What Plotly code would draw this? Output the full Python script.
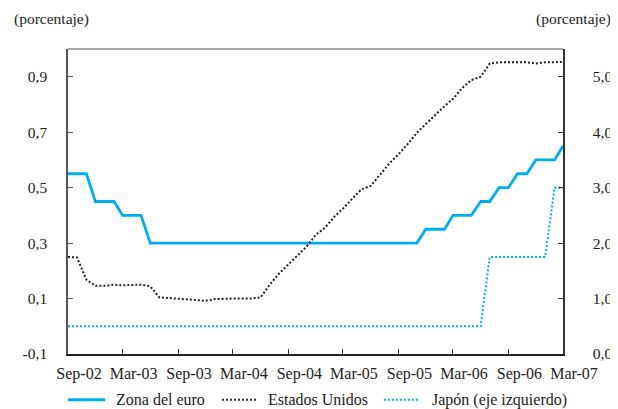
import plotly.graph_objects as go
import pandas as pd

months = pd.date_range("2002-09-01", "2007-03-01", freq="MS")

euro = [3.25, 3.25, 3.25, 2.75, 2.75, 2.75, 2.5, 2.5, 2.5, 2.0,
        2.0, 2.0, 2.0, 2.0, 2.0, 2.0, 2.0, 2.0, 2.0, 2.0,
        2.0, 2.0, 2.0, 2.0, 2.0, 2.0, 2.0, 2.0, 2.0, 2.0,
        2.0, 2.0, 2.0, 2.0, 2.0, 2.0, 2.0, 2.0, 2.0, 2.25,
        2.25, 2.25, 2.5, 2.5, 2.5, 2.75, 2.75, 3.0, 3.0, 3.25,
        3.25, 3.5, 3.5, 3.5, 3.75]

usa = [1.75, 1.74, 1.34, 1.23, 1.23, 1.25, 1.24, 1.25, 1.25, 1.22,
       1.02, 1.01, 1.00, 0.99, 0.98, 0.96, 0.99, 1.00, 1.00, 1.00,
       1.00, 1.02, 1.25, 1.45, 1.62, 1.78, 1.94, 2.15, 2.28, 2.48,
       2.62, 2.80, 2.97, 3.03, 3.22, 3.43, 3.60, 3.78, 3.99, 4.15,
       4.30, 4.47, 4.60, 4.80, 4.94, 5.00, 5.24, 5.26, 5.26, 5.26,
       5.26, 5.24, 5.26, 5.26, 5.27]

japan = [0.0] * 46 + [0.25, 0.25, 0.25, 0.25, 0.25, 0.25, 0.25, 0.5, 0.5]

series_names = ["Zona del euro", "Estados Unidos", "Japón (eje izquierdo)"]

tick_dates = ["2002-09-01", "2003-03-01", "2003-09-01", "2004-03-01", "2004-09-01",
              "2005-03-01", "2005-09-01", "2006-03-01", "2006-09-01", "2007-03-01"]
tick_labels = ["Sep-02", "Mar-03", "Sep-03", "Mar-04", "Sep-04",
               "Mar-05", "Sep-05", "Mar-06", "Sep-06", "Mar-07"]

left_ticks = [-0.1, 0.1, 0.3, 0.5, 0.7, 0.9]
left_labels = ["-0,1", "0,1", "0,3", "0,5", "0,7", "0,9"]
right_ticks = [0.0, 1.0, 2.0, 3.0, 4.0, 5.0]

BLUE = "#00aeef"
DARK = "#222222"
FONT = "Liberation Serif, Times New Roman, DejaVu Serif, serif"
FS = 15.5
FS_X = 16
FS_LEG = 16

styles = [dict(color=BLUE, width=2.8),
          dict(color=DARK, width=2, dash="2px,2px"),
          dict(color=BLUE, width=2, dash="2px,2px")]

fig = go.Figure()
fig.add_trace(go.Scatter(x=months, y=euro, name=series_names[0], mode="lines",
                         line=styles[0], yaxis="y2", showlegend=False))
fig.add_trace(go.Scatter(x=months, y=usa, name=series_names[1], mode="lines",
                         line=styles[1], yaxis="y2", showlegend=False))
fig.add_trace(go.Scatter(x=months, y=japan, name=series_names[2], mode="lines",
                         line=styles[2], yaxis="y", showlegend=False))

# manual legend (paper coordinates)
leg_y = -0.15
leg_x = [(0.0, 0.075, 0.093), (0.311, 0.382, 0.400), (0.638, 0.711, 0.731)]
shapes = [dict(type="line", xref="paper", yref="paper", x0=0, x1=1, y0=1, y1=1,
               line=dict(color="#888888", width=1.5))]
annotations = []
for (x0, x1, xt), name, st in zip(leg_x, series_names, styles):
    shapes.append(dict(type="line", xref="paper", yref="paper", x0=x0, x1=x1,
                       y0=leg_y, y1=leg_y, line=st))
    annotations.append(dict(text=name, xref="paper", yref="paper", x=xt, y=leg_y,
                            xanchor="left", yanchor="middle", showarrow=False,
                            font=dict(family=FONT, size=FS_LEG, color=DARK)))

annotations += [
    dict(text="(porcentaje)", xref="paper", yref="paper", x=-0.113, y=1.098,
         xanchor="left", yanchor="middle", showarrow=False,
         font=dict(family=FONT, size=FS)),
    dict(text="(porcentaje)", xref="paper", yref="paper", x=1.101, y=1.098,
         xanchor="right", yanchor="middle", showarrow=False,
         font=dict(family=FONT, size=FS)),
]

fig.update_layout(
    width=610, height=401,
    margin=dict(l=60, r=55, t=41, b=55, autoexpand=False),
    paper_bgcolor="white", plot_bgcolor="white",
    separators=", ",
    font=dict(family=FONT, size=FS, color=DARK),
    showlegend=False,
    xaxis=dict(type="date", range=["2002-09-01", "2007-03-01"],
               tickvals=tick_dates, ticktext=tick_labels,
               tickfont=dict(family=FONT, size=FS_X),
               ticks="inside", ticklen=5, tickcolor="#333333",
               showline=True, linecolor=DARK, linewidth=1.5,
               showgrid=False, zeroline=False, ticklabelshift=11,
               ticklabelstandoff=4),
    yaxis=dict(range=[-0.1, 1.0], tickvals=left_ticks, ticktext=left_labels,
               ticks="inside", ticklen=5, tickcolor="#555555",
               showline=True, linecolor="#555555", linewidth=1.5,
               showgrid=False, zeroline=False, ticklabelstandoff=16),
    yaxis2=dict(range=[0, 5.5], tickvals=right_ticks, tickformat=".1f",
                overlaying="y", side="right",
                ticks="inside", ticklen=5, tickcolor="#333333",
                showline=True, linecolor="#333333", linewidth=1.5,
                showgrid=False, zeroline=False, ticklabelstandoff=25),
    shapes=shapes,
    annotations=annotations,
)

fig.write_html("out.html")
